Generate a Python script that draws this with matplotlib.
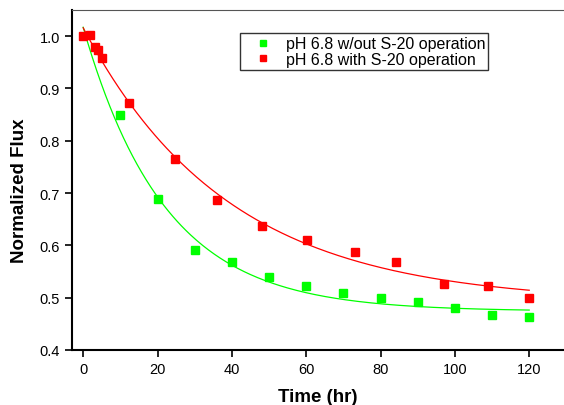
import numpy as np
from matplotlib import pyplot as plt

plt.rcParams['font.family'] = ['Liberation Sans', 'DejaVu Sans']

# pH 6.8 without S-20 operation
t_wo = [10, 20, 30, 40, 50, 60, 70, 80, 90, 100, 110, 120]
flux_wo = [0.849, 0.689, 0.592, 0.569, 0.540, 0.522, 0.508, 0.499, 0.491, 0.480, 0.466, 0.464]

# pH 6.8 with S-20 operation
t_w = [0, 1.9, 3.1, 4.1, 5.1, 12.2, 24.6, 36.1, 48.1, 60.2, 73.2, 84.1, 97.1, 109.0, 120]
flux_w = [1.0, 1.002, 0.98, 0.974, 0.959, 0.873, 0.765, 0.687, 0.637, 0.610, 0.587, 0.569, 0.526, 0.522, 0.500]

# exponential decay fits: y0, A, tau
fit_wo = (0.474, 0.543, 22.0)
fit_w = (0.490, 0.526, 39.0)

labels = ['pH 6.8 w/out S-20 operation', 'pH 6.8 with S-20 operation']
green = '#00ff00'
red = '#ff0000'


def decay(x, p):
    return p[0] + p[1] * np.exp(-x / p[2])


fig = plt.figure(figsize=(5.64, 4.06), dpi=100)
ax = fig.add_axes([0.1277, 0.1355, 0.8897, 0.8374])

xs = np.linspace(0, 120, 300)
ax.plot(xs, decay(xs, fit_wo), color=green, lw=0.9)
ax.plot(xs, decay(xs, fit_w), color=red, lw=0.9)
h1, = ax.plot(t_wo, flux_wo, 's', color=green, markersize=5.5, label=labels[0])
h2, = ax.plot(t_w, flux_w, 's', color=red, markersize=5.5, label=labels[1])

ax.set_xlim(-3, 132)
ax.set_ylim(0.4, 1.05)
ax.set_xticks(np.arange(0, 121, 20))
ax.set_yticks(np.arange(0.4, 1.01, 0.1))
ax.set_yticklabels(['%.1f' % v for v in np.arange(0.4, 1.01, 0.1)])
ax.tick_params(direction='out', length=5, width=1.2, labelsize=10.5, colors='black')

ax.spines['left'].set_linewidth(1.5)
ax.spines['bottom'].set_linewidth(1.5)
ax.spines['top'].set_linewidth(0.8)
ax.spines['top'].set_color('#555555')
ax.spines['right'].set_visible(False)

ax.set_xlabel('Time (hr)', fontsize=13.5, fontweight='bold')
ax.set_ylabel('Normalized Flux', fontsize=13.5, fontweight='bold')
ax.xaxis.set_label_coords(0.490, -0.112)
ax.yaxis.set_label_coords(-0.088, 0.47)

leg = fig.legend(handles=[h1, h2], loc='upper left', bbox_to_anchor=(240 / 564, 1 - 34 / 406),
                 borderaxespad=0, fontsize=11.5, frameon=True, fancybox=False,
                 handlelength=2.5, handletextpad=0.15, borderpad=0.2, labelspacing=0.05,
                 markerscale=0.85)
leg.get_frame().set_edgecolor('black')
leg.get_frame().set_linewidth(1.0)

fig.savefig('out.png', dpi=100)
